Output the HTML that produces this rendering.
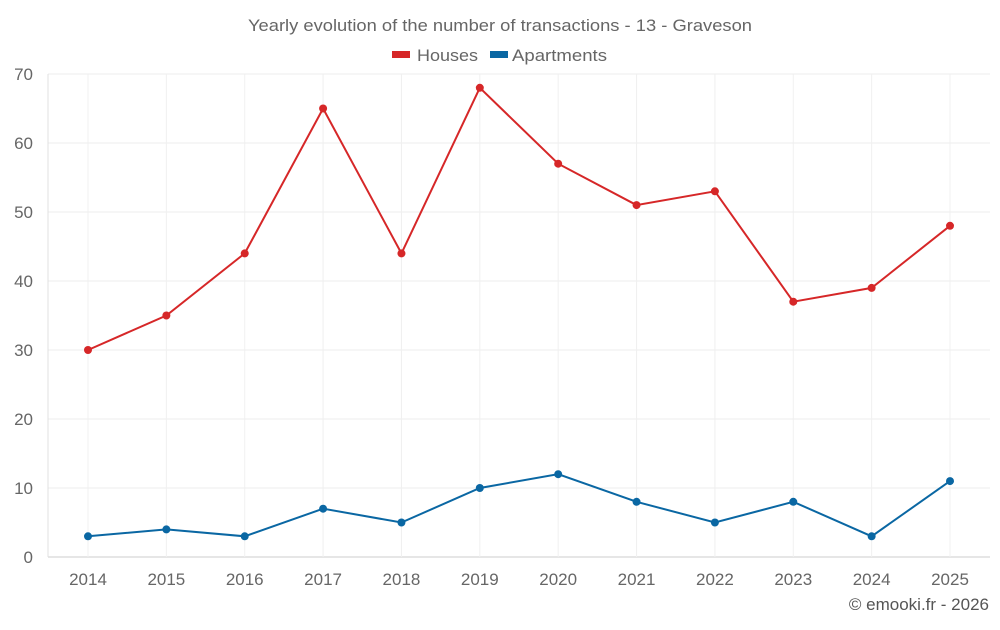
<!DOCTYPE html>
<html><head><meta charset="utf-8"><style>
body{margin:0;background:#fff;font-family:"Liberation Sans",sans-serif;}
svg text{font-family:"Liberation Sans",sans-serif;}
</style></head><body>
<svg id="chart" width="1000" height="625">
<text x="248" y="31" textLength="504" lengthAdjust="spacingAndGlyphs" font-size="17" fill="#666">Yearly evolution of the number of transactions - 13 - Graveson</text>
<g>
<g><rect x="392" y="51" width="18" height="7" fill="#d62728"/><text x="417" y="61" font-size="17" textLength="61" lengthAdjust="spacingAndGlyphs" fill="#666">Houses</text></g>
<g><rect x="490" y="51" width="18" height="7" fill="#0a67a3"/><text x="512" y="61" font-size="17" textLength="95" lengthAdjust="spacingAndGlyphs" fill="#666">Apartments</text></g>
</g>
<g id="grid"></g><g id="axes"></g><g id="series"></g>
<text x="989" y="610" text-anchor="end" font-size="17" fill="#555">© emooki.fr - 2026</text>
</svg>
<script>
const years=[2014,2015,2016,2017,2018,2019,2020,2021,2022,2023,2024,2025];
const houses=[30,35,44,65,44,68,57,51,53,37,39,48];
const apartments=[3,4,3,7,5,10,12,8,5,8,3,11];
const yTicks=[0,10,20,30,40,50,60,70];
const NS="http://www.w3.org/2000/svg";
const L=48,R=990,T=74,B=557;
const x=i=>88+i*(950-88)/(years.length-1);
const y=v=>B-(v/70)*(B-T);
function mk(tag,attrs,parent){const e=document.createElementNS(NS,tag);for(const k in attrs)e.setAttribute(k,attrs[k]);parent.appendChild(e);return e;}
const grid=document.getElementById('grid'),axes=document.getElementById('axes'),series=document.getElementById('series');
yTicks.forEach(t=>{
 const l=mk('line',{x1:L,x2:R,y1:y(t),y2:y(t),stroke:t===0?'#ccc':'#ececec'},grid);
 
 
 const tx=mk('text',{x:33,y:y(t)+6,'text-anchor':'end','font-size':17,fill:'#666'},axes);
 tx.textContent=t;
 
 
});
years.forEach((yr,i)=>{
 const l=mk('line',{x1:x(i),x2:x(i),y1:T,y2:B,stroke:'#f0f0f0'},grid);
 
 
 const tx=mk('text',{x:x(i),y:585,'text-anchor':'middle','font-size':17,fill:'#666'},axes);
 tx.textContent=yr;
 
 
});
const yl=mk('line',{x1:L,x2:L,y1:T,y2:B,stroke:'#e0e0e0'},grid);


function draw(vals,color,name){
 const p=mk('polyline',{points:vals.map((v,i)=>x(i)+','+y(v)).join(' '),fill:'none',stroke:color,'stroke-width':2},series);
 
 
 vals.forEach((v,i)=>{
  const c=mk('circle',{cx:x(i),cy:y(v),r:4,fill:color},series);
  
  
 });
}
draw(houses,'#d62728','houses');
draw(apartments,'#0a67a3','apartments');
</script>
</body></html>
